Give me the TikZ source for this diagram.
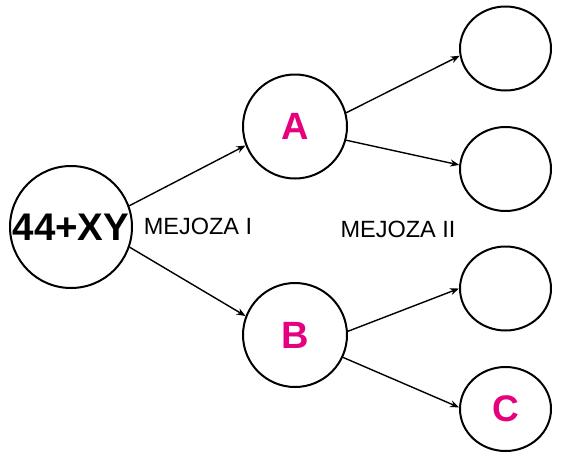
\documentclass[tikz,border=0pt]{standalone}
\usepackage{fontspec}
\setmainfont{Liberation Sans}
\usetikzlibrary{shapes.geometric,arrows.meta}
\definecolor{mag}{RGB}{230,0,126}
\tikzset{
  big/.style={circle,draw,line width=2pt,minimum size=122pt,inner sep=0pt},
  mid/.style={circle,draw,line width=2pt,minimum size=104pt,inner sep=0pt,
    font=\fontsize{38}{40}\selectfont\bfseries,text=mag},
  small/.style={ellipse,draw,line width=2pt,minimum width=91pt,minimum height=84pt,inner sep=0pt,
    font=\fontsize{37}{40}\selectfont\bfseries,text=mag},
  lab/.style={inner sep=0pt,font=\fontsize{23.5}{26}\selectfont},
  arr/.style={-{Stealth[length=9pt,width=7pt]},line width=1.4pt}
}
\begin{document}
\begin{tikzpicture}[x=1pt,y=-1pt]
\useasboundingbox (0,0) rectangle (562,458);
\node[big] (big) at (71,227) {};
\node[inner sep=0pt,font=\fontsize{38.5}{40}\selectfont\bfseries] (t44) at (71,227) {44+XY};
\node[mid] (A) at (295,126.5) {A};
\node[mid] (B) at (295,335) {B};
\node[small] (R1) at (505.5,48.5) {};
\node[small] (R2) at (505.5,169) {};
\node[small] (R3) at (505.5,288.5) {};
\node[small] (R4) at (505.5,409) {C};
\node[lab] (m1) at (198,226.5) {MEJOZA I};
\node[lab] (m2) at (398,229.5) {MEJOZA II};
\draw[arr] (big.20) -- (A.201);
\draw[arr] (big.-19) -- (B.159);
\draw[arr] (A.15) -- (R1.189);
\draw[arr] (A.-15.6) -- (R2.175);
\draw[arr] (B.4) -- (R3.180);
\draw[arr] (B.-25.6) -- (R4.178);
\end{tikzpicture}
\end{document}
